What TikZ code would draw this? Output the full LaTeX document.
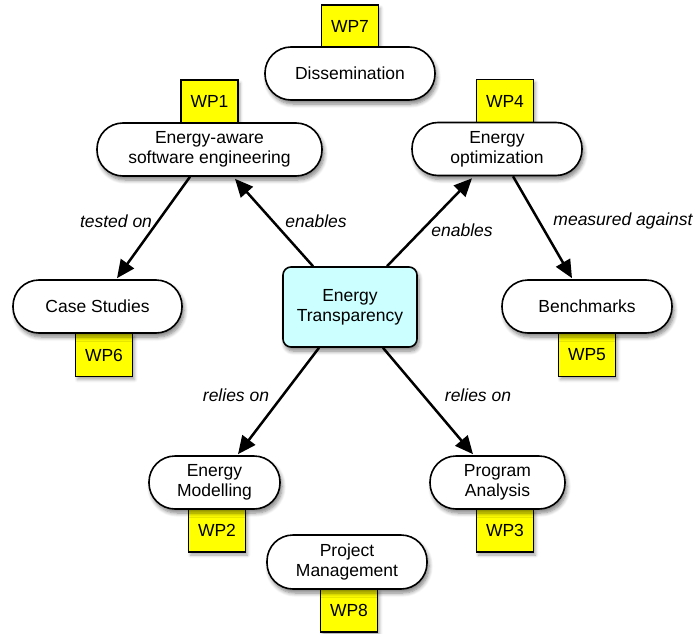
\documentclass[tikz,border=0pt]{standalone}
\usepackage{fontspec}
\setmainfont{Liberation Sans}
\usetikzlibrary{arrows.meta,shadows.blur}
\definecolor{wpyellow}{HTML}{FFFF00}
\definecolor{etcyan}{HTML}{CCFFFF}
\tikzset{
  txt/.style={font=\fontsize{17.5}{20}\selectfont, align=center, text=black},
  pill/.style={txt, draw=black, line width=1.6pt, fill=white, rectangle, rounded corners=26pt,
    minimum height=53pt, inner sep=0pt,
    blur shadow={shadow xshift=2pt, shadow yshift=-4pt, shadow blur steps=6, shadow blur radius=4pt, shadow opacity=50}},
  wp/.style={txt, draw=black, line width=1.2pt, fill=wpyellow, rectangle, minimum width=57pt, minimum height=43pt, inner sep=0pt,
    blur shadow={shadow xshift=2pt, shadow yshift=-3pt, shadow blur steps=4, shadow blur radius=3pt, shadow opacity=35}},
  core/.style={txt, draw=black, line width=1.6pt, fill=etcyan, rectangle, rounded corners=8pt,
    minimum width=134pt, minimum height=80pt, inner sep=0pt,
    blur shadow={shadow xshift=2pt, shadow yshift=-4pt, shadow blur steps=6, shadow blur radius=4pt, shadow opacity=50}},
  rel/.style={line width=2.5pt, -{Triangle[length=18pt,width=16pt]}},
  lbl/.style={font=\fontsize{17.5}{20}\selectfont\itshape, text=black, inner sep=0pt}
}
\begin{document}
\begin{tikzpicture}[x=1pt,y=-1pt]
\useasboundingbox (0,0) rectangle (696,634);
% WP boxes (behind)
\node[wp] (wp7) at (350,26.5) {WP7};
\node[wp] (wp1) at (209.5,101.5) {WP1};
\node[wp] (wp4) at (505,101) {WP4};
\node[wp] (wp6) at (104,355) {WP6};
\node[wp] (wp5) at (587,355) {WP5};
\node[wp] (wp2) at (217,530.5) {WP2};
\node[wp] (wp3) at (505,530.5) {WP3};
\node[wp] (wp8) at (349,610.5) {WP8};
% main nodes
\node[pill, minimum width=170pt] (dis) at (350,73.5) {Dissemination};
\node[pill, minimum width=225pt] (ea) at (209.5,149.5) {Energy-aware\\software engineering};
\node[pill, minimum width=170pt] (eo) at (497,149) {Energy\\optimization};
\node[pill, minimum width=169pt] (cs) at (97.5,306.5) {Case Studies};
\node[pill, minimum width=170pt] (bm) at (587,306.5) {Benchmarks};
\node[core] (et) at (350,307) {Energy\\Transparency};
\node[pill, minimum width=131pt] (em) at (214.5,482.5) {Energy\\Modelling};
\node[pill, minimum width=135pt] (pa) at (497.5,482.5) {Program\\Analysis};
\node[pill, minimum width=160pt, minimum height=54pt] (pm) at (347,562) {Project\\Management};
% connectors
\draw[rel] ([xshift=-37pt]et.north) -- ([xshift=25.5pt,yshift=-2pt]ea.south);
\draw[rel] ([xshift=37pt]et.north) -- ([xshift=-25pt,yshift=-2pt]eo.south);
\draw[rel] ([xshift=-19.5pt]ea.south) -- ([xshift=19.5pt,yshift=1pt]cs.north);
\draw[rel] ([xshift=16pt]eo.south) -- ([xshift=-15pt,yshift=1pt]bm.north);
\draw[rel] ([xshift=-31pt]et.south) -- ([xshift=23.5pt,yshift=1pt]em.north);
\draw[rel] ([xshift=33pt]et.south) -- ([xshift=-24.5pt,yshift=1pt]pa.north);
% labels
\node[lbl] (l1) at (116,221) {tested on};
\node[lbl] (l2) at (316,221) {enables};
\node[lbl] (l3) at (462,230) {enables};
\node[lbl] (l4) at (623,221) {measured against};
\node[lbl] (l5) at (236,395) {relies on};
\node[lbl] (l6) at (478,395) {relies on};
\end{tikzpicture}
\end{document}
